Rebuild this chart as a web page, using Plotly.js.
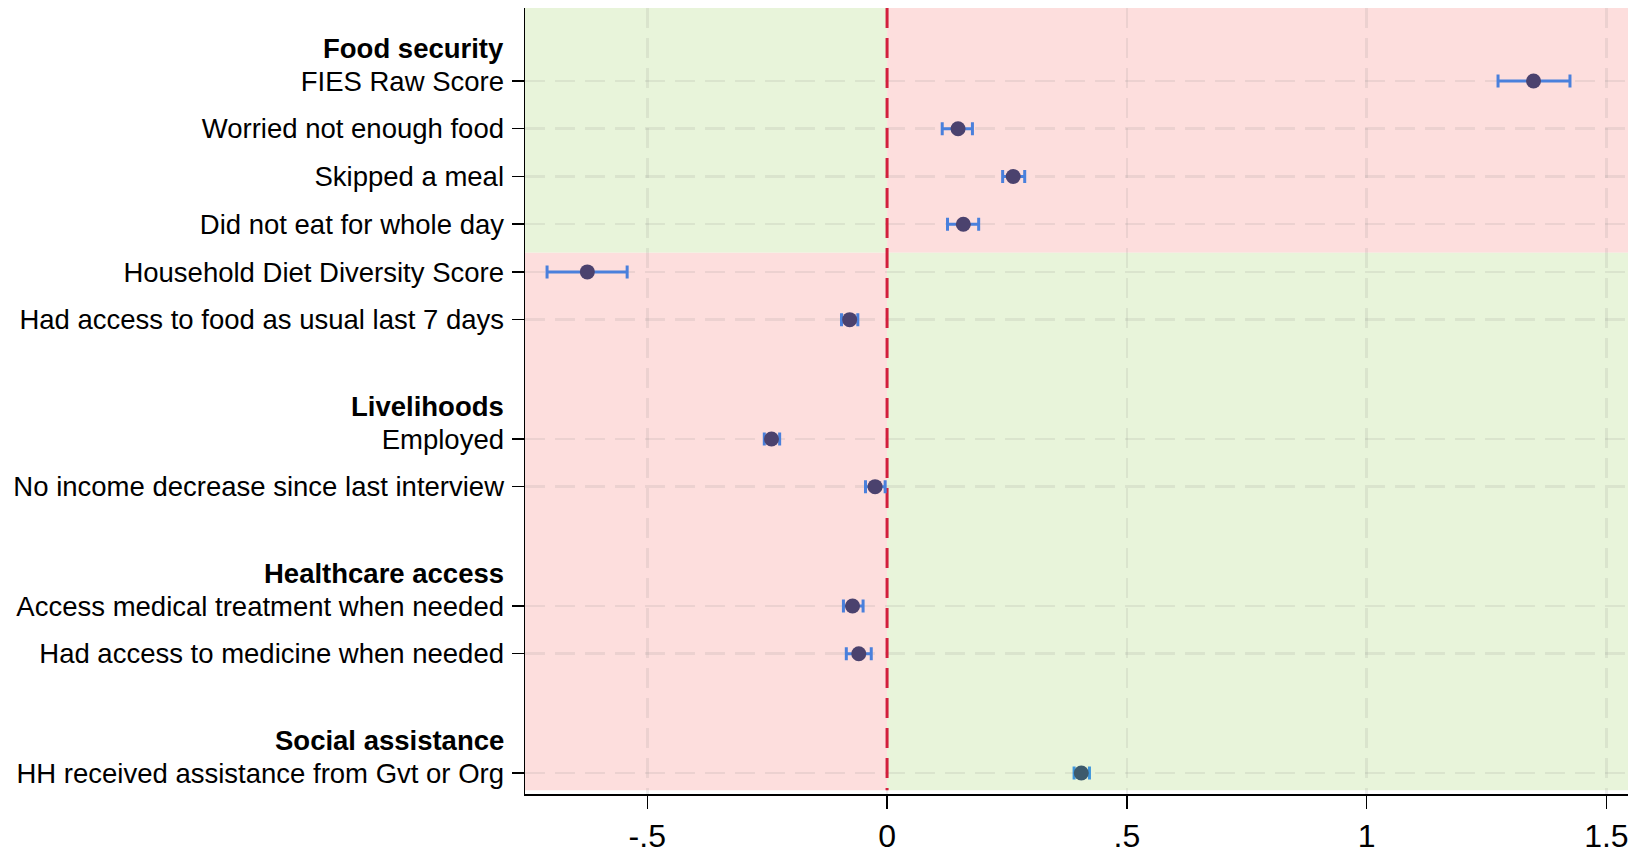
<!DOCTYPE html>
<html>
<head>
<meta charset="utf-8">
<script src="https://cdn.plot.ly/plotly-3.0.1.min.js"></script>
<style>html,body{margin:0;padding:0;background:#fff;}#chart{width:1634px;height:850px;}</style>
</head>
<body>
<div id="chart"></div>
<script>
// ---- data ----
const groups = ["Food security", "Livelihoods", "Healthcare access", "Social assistance"];
const groupSizes = [6, 2, 2, 1];
const outcomes = [
  "FIES Raw Score",
  "Worried not enough food",
  "Skipped a meal",
  "Did not eat for whole day",
  "Household Diet Diversity Score",
  "Had access to food as usual last 7 days",
  "Employed",
  "No income decrease since last interview",
  "Access medical treatment when needed",
  "Had access to medicine when needed",
  "HH received assistance from Gvt or Org"
];
const estimates = [1.348, 0.148, 0.263, 0.159, -0.625, -0.078, -0.241, -0.025, -0.072, -0.059, 0.405];
const ciLow     = [1.274, 0.115, 0.241, 0.126, -0.709, -0.095, -0.256, -0.045, -0.091, -0.085, 0.390];
const ciHigh    = [1.424, 0.178, 0.287, 0.191, -0.542, -0.061, -0.224, -0.004, -0.050, -0.033, 0.422];
const xTickVals = [-0.5, 0, 0.5, 1, 1.5];
const xTickText = ["-.5", "0", ".5", "1", "1.5"];
const refValue = 0;

// ---- row positions from group structure ----
const GAP = 2.5, HEADER_OFFSET = 0.68;
const rowPos = [], headerPos = [];
let cur = 0;
groupSizes.forEach((n, g) => {
  if (g > 0) cur += GAP - 1;
  headerPos.push(cur - HEADER_OFFSET);
  for (let i = 0; i < n; i++) { rowPos.push(cur); cur += 1; }
});

const FONT = "Liberation Sans, Arial, Helvetica, sans-serif";
const xMin = -0.755, xMax = 1.545;
const yTop = -1.53, yBot = 14.94, shadeBot = 14.86, split = 3.6;
const green = "#e8f4da", red = "#fddedd";

const markerCols = outcomes.map((_, i) => i === outcomes.length - 1 ? "#3d5a6c" : "#4b426e");
const errCols = outcomes.map((_, i) => i === outcomes.length - 1 ? "#3e96dc" : "#4a80dc");

const traces = [{
  type: "scatter", mode: "lines",
  x: [refValue, refValue], y: [yTop, shadeBot],
  line: { color: "#d21f3c", width: 3, dash: "20px,10px" },
  hoverinfo: "skip", showlegend: false
}].concat(outcomes.map((name, i) => ({
  type: "scatter",
  mode: "markers",
  x: [estimates[i]],
  y: [rowPos[i]],
  name: name,
  showlegend: false,
  marker: { size: 15, color: markerCols[i] },
  error_x: {
    type: "data", symmetric: false,
    array: [ciHigh[i] - estimates[i]],
    arrayminus: [estimates[i] - ciLow[i]],
    color: errCols[i], thickness: 3, width: 6.5
  },
  hoverinfo: "x+text", text: [name]
})));

const gridCol = "rgba(120,120,120,0.13)";

const shapes = [
  { type: "rect", xref: "x", yref: "y", x0: xMin, x1: 0, y0: yTop, y1: split, fillcolor: green, line: { width: 0 }, layer: "below" },
  { type: "rect", xref: "x", yref: "y", x0: 0, x1: xMax, y0: yTop, y1: split, fillcolor: red, line: { width: 0 }, layer: "below" },
  { type: "rect", xref: "x", yref: "y", x0: xMin, x1: 0, y0: split, y1: shadeBot, fillcolor: red, line: { width: 0 }, layer: "below" },
  { type: "rect", xref: "x", yref: "y", x0: 0, x1: xMax, y0: split, y1: shadeBot, fillcolor: green, line: { width: 0 }, layer: "below" }
];

const annotations = groups.map((g, i) => ({
  xref: "paper", yref: "y", x: 0, y: headerPos[i],
  xanchor: "right", yanchor: "middle", xshift: -19,
  text: "<b>" + g + "</b>", showarrow: false,
  font: { family: FONT, size: 27.5, color: "#000" }
}));

const layout = {
  width: 1634, height: 850,
  margin: { l: 525, r: 6, t: 8, b: 56 },
  paper_bgcolor: "#fff", plot_bgcolor: "#fff",
  font: { family: FONT, color: "#000" },
  showlegend: false,
  xaxis: {
    range: [xMin, xMax],
    tickvals: xTickVals, ticktext: xTickText,
    showgrid: true, gridcolor: gridCol, gridwidth: 2.5, griddash: "20px,10px",
    zeroline: false,
    showline: true, linecolor: "#000", linewidth: 1.5,
    ticks: "outside", ticklen: 13, tickwidth: 1.5, tickcolor: "#000",
    tickfont: { family: FONT, size: 32, color: "#000" }
  },
  yaxis: {
    range: [yBot, yTop],
    tickvals: rowPos, ticktext: outcomes,
    showgrid: true, gridcolor: gridCol, gridwidth: 2.5, griddash: "20px,10px",
    zeroline: false,
    showline: true, linecolor: "#000", linewidth: 1.5,
    ticks: "outside", ticklen: 12, tickwidth: 1.5, tickcolor: "#000",
    ticklabelstandoff: 2,
    tickfont: { family: FONT, size: 27.5, color: "#000" }
  },
  shapes: shapes,
  annotations: annotations
};

Plotly.newPlot("chart", traces, layout, { displayModeBar: false, staticPlot: true });
</script>
</body>
</html>
